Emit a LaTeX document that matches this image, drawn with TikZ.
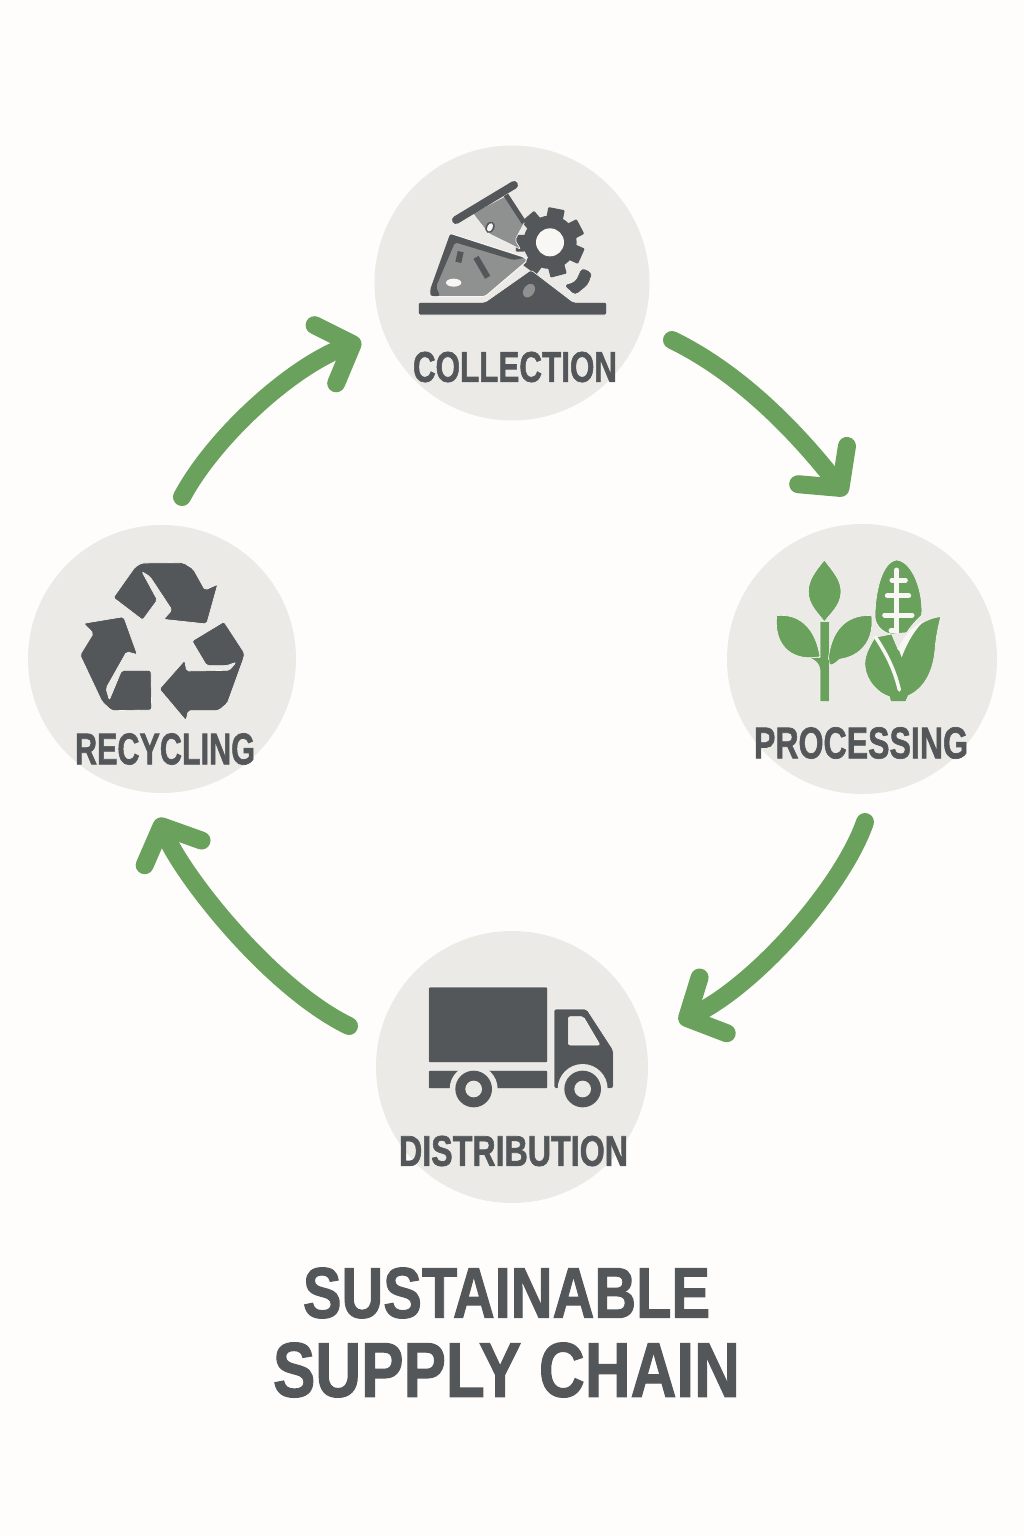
\documentclass[tikz,border=0pt]{standalone}
\usepackage{graphicx}
\usepackage{fontspec}
\setmainfont{Liberation Sans}[BoldFeatures={FakeBold=1.6}]
\usetikzlibrary{arrows.meta,calc}
\definecolor{bgc}{HTML}{FEFDFB}
\definecolor{disc}{HTML}{ECEAE6}
\definecolor{grn}{HTML}{6AA15C}
\definecolor{drk}{HTML}{54575A}
\definecolor{mid}{HTML}{8F9190}
\definecolor{halo}{HTML}{F8F7F4}
\newcommand{\fitbox}[3]{\resizebox{#1pt}{#2pt}{\bfseries #3}}
\tikzset{
  stage/.style={circle,fill=disc,inner sep=0pt,outer sep=0pt,minimum size=#1},
  lab/.style={inner sep=0pt,outer sep=0pt,text=drk},
  flow/.style={draw=grn,line width=18pt,line cap=round,line join=round,
    -{Straight Barb[round,length=29pt,width=62pt,line width=18pt]}},
  icond/.style={fill=drk,draw=halo,line width=.6pt,rounded corners=2pt},
  iconl/.style={fill=mid,rounded corners=2pt},
  icong/.style={fill=grn,draw=halo,line width=.6pt},
  zoomed/.style={x=0.33333pt,y=-0.33333pt},
  cut/.style={fill=disc},
}
\begin{document}
\begin{tikzpicture}[x=1pt,y=-1pt]
\useasboundingbox (0,0) rectangle (1024,1536);
\fill[bgc] (0,0) rectangle (1024,1536);

\node[stage=275pt] (collection) at (512,283) {};
\node[stage=270pt] (processing) at (862,659) {};
\node[stage=268pt] (recycling) at (162,659) {};
\node[stage=272pt] (distribution) at (512,1067) {};

% connectors
\draw[flow] ($(collection)+(160,57)$) .. controls +(70,34) and +(-47,-60) .. ($(processing)+(-16,-164)$);
\draw[flow] ($(processing)+(3,163)$) .. controls +(-22,64) and +(78,-38) .. ($(distribution)+(167,-45)$);
\draw[flow] ($(distribution)+(-163,-41)$) .. controls +(-78,-38) and +(26,60) .. ($(recycling)+(-4,159)$);
\draw[flow] ($(recycling)+(20,-162)$) .. controls +(32,-60) and +(-70,26) .. ($(collection)+(-151,58)$);

% collection icon
\begin{scope}[shift={(400,170)},zoomed]
  \fill[drk] (450,217) circle (80);
  \foreach \a in {79,130.4,181.8,233.2,284.6,336,27.6}{
    \fill[drk,rotate around={\a:(450,217)},rounded corners=1pt] (510,192) rectangle (553,242);
  }
  \fill[halo] (450,217) circle (42);
  \path[iconl,draw=halo,line width=.6pt] (218,130) -- (322,75) -- (375,155) -- (345,210) -- (362,238) -- (265,190) -- cycle;
  \draw[drk,line width=5pt] (318,75) -- (372,158);
  \draw[drk,line width=8pt,line cap=round] (168,150) -- (342,45);
  \fill[drk,rotate around={-25:(270,172)}] (270,172) ellipse (13 and 18);
  \fill[halo,rotate around={-25:(270,172)}] (270,172) ellipse (8 and 13);
  \path[iconl,draw=halo,line width=1pt] (150,190) -- (375,262) -- (382,272) -- (255,380) -- (88,380) -- cycle;
  \path[fill=drk,rounded corners=2pt] (150,192) -- (372,264) -- (340,270) -- (165,217) -- (108,350) -- (120,378) -- (92,378) -- (90,360) -- cycle;
  \draw[drk,line width=6pt] (182,245) -- (175,277);
  \draw[drk,line width=6pt] (228,262) -- (263,322);
  \fill[halo] (161,338) ellipse (23 and 12);
  \path[icond] (55,397) -- (255,397) -- (393,300) -- (520,397) -- (620,397) -- (620,435) -- (55,435) -- cycle;
  \fill[mid,rotate around={-35:(387,362)}] (387,362) ellipse (16 and 22);
  \path[icond,rounded corners=4pt] (490,345) -- (525,335) -- (545,292) -- (578,308) -- (565,345) -- (525,377) -- cycle;
\end{scope}
\node[lab] (collectionlab) at (515,367) {\fitbox{204}{30}{COLLECTION}};

% processing icon
\begin{scope}[shift={(760,550)},zoomed]
  \path[icong] (193,30) .. controls (165,65) and (145,90) .. (145,125) .. controls (145,165) and (175,190) .. (193,215) .. controls (212,190) and (243,165) .. (243,125) .. controls (243,90) and (220,65) .. (193,30) -- cycle;
  \path[icong] (180,215) -- (208,215) -- (208,455) -- (180,455) -- (180,360) .. controls (178,340) and (165,330) .. (145,322) -- (180,322) -- cycle;
  \path[icong] (50,197) .. controls (110,190) and (165,225) .. (180,320) .. controls (110,335) and (40,300) .. (50,197) -- cycle;
  \path[icong] (335,197) .. controls (275,192) and (215,225) .. (205,328) .. controls (280,335) and (345,290) .. (335,197) -- cycle;
  \fill[grn] (208,330) .. controls (208,345) and (210,352) .. (240,325) -- (208,325) -- cycle;
  \path[icong] (410,30) .. controls (365,35) and (345,130) .. (345,200) .. controls (345,225) and (370,250) .. (395,252) -- (440,248) .. controls (455,225) and (470,210) .. (485,195) .. controls (490,130) and (460,35) .. (410,30) -- cycle;
  \begin{scope}[halo,line width=5pt,line cap=round]
    \draw (410,60) -- (410,242) -- (393,242);
    \draw (396,90) -- (436,90);
    \draw (382,137) -- (446,137);
    \draw (374,195) -- (456,195);
  \end{scope}
  \path[icong] (345,262) .. controls (325,295) and (312,320) .. (315,350) .. controls (320,395) and (355,430) .. (388,440) -- (392,455) -- (437,455) -- (445,437) .. controls (495,415) and (520,360) .. (525,300) .. controls (528,260) and (535,230) .. (542,200) .. controls (490,205) and (440,245) .. (415,300) -- (395,252) -- cycle;
  \draw[halo,line width=3.5pt,line cap=round] (347,262) .. controls (385,320) and (405,365) .. (418,420);
  \fill[halo] (415,295) .. controls (435,250) and (465,225) .. (492,212) .. controls (465,240) and (445,270) .. (425,322) -- cycle;
\end{scope}
\node[lab] (processinglab) at (861,743) {\fitbox{214}{31}{PROCESSING}};

% recycling icon
\begin{scope}[shift={(70,555)},zoomed]
  \path[icond] (130,128) -- (195,36) -- (215,24) -- (340,23) -- (370,42) -- (405,105) -- (443,88) -- (410,207) -- (281,193) -- (306,165) -- (240,65) -- (216,50) -- (262,135) -- (218,195) -- cycle;
  \path[icond] (366,258) -- (462,200) -- (524,295) -- (520,312) -- (472,445) -- (445,467) -- (355,467) -- (348,497) -- (268,402) -- (344,316) -- (350,348) -- (478,346) -- (498,322) -- (470,332) -- (410,332) -- cycle;
  \path[icond] (41,205) -- (161,185) -- (202,299) -- (170,290) -- (108,400) -- (118,435) -- (155,346) -- (243,346) -- (245,465) -- (125,467) -- (96,440) -- (30,300) -- (70,235) -- cycle;
\end{scope}
\node[lab] (recyclinglab) at (165,749) {\fitbox{180}{31}{RECYCLING}};

% distribution icon
\begin{scope}[shift={(415,975)},zoomed]
  \path[icond,rounded corners=1pt] (41,36) rectangle (398,263);
  \path[icond,rounded corners=1pt] (41,286) rectangle (398,341);
  \fill[disc] (176,342) circle (72);
  \path[icond] (417,102) -- (515,102) -- (595,225) -- (595,340) -- (417,340) -- cycle;
  \fill[disc] (503,342) circle (75);
  \path[cut,draw=halo,line width=.6pt,rounded corners=2pt] (460,125) -- (505,125) -- (555,210) -- (460,210) -- cycle;
  \foreach \cx in {176,503}{
    \fill[drk] (\cx,342) circle (55);
    \fill[disc] (\cx,342) circle (25);
  }
\end{scope}
\node[lab] (distributionlab) at (513.5,1151) {\fitbox{229}{30}{DISTRIBUTION}};

% title
\node[lab] (titletop) at (506.5,1293) {\fitbox{407}{50}{SUSTAINABLE}};
\node[lab] (titlebottom) at (506.5,1370) {\fitbox{467}{54}{SUPPLY CHAIN}};
\end{tikzpicture}
\end{document}
